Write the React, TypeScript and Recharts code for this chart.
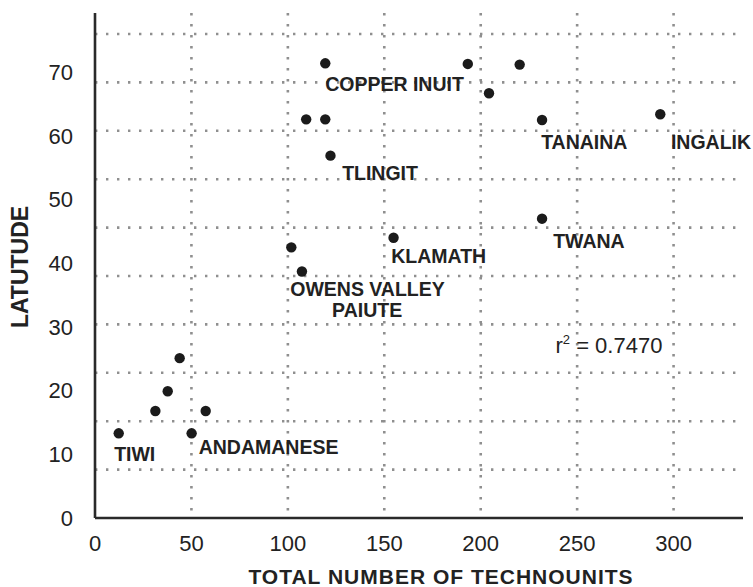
import React from 'react';
import { ScatterChart, Scatter, XAxis, YAxis, CartesianGrid, Label } from 'recharts';

// Total number of technounits (x) and latitude (y) per society
const technounits = [12.3, 31.3, 37.7, 43.9, 57.4, 50.1, 101.8, 107.3, 154.8, 109.5, 119.4, 122.1, 119.4, 193.3, 220.2, 204.3, 231.8, 231.8, 293.1];
const latitude = [13.3, 16.8, 19.9, 25.1, 16.8, 13.3, 42.5, 38.7, 44.0, 62.6, 62.6, 56.9, 71.4, 71.3, 71.2, 66.7, 62.5, 47.0, 63.4];

// Society name annotations (anchor in data units)
const labelText = ['COPPER INUIT', 'TLINGIT', 'TANAINA', 'INGALIK', 'TWANA', 'KLAMATH', 'OWENS VALLEY', 'PAIUTE', 'TIWI', 'ANDAMANESE'];
const labelX = [155.3, 147.8, 253.7, 319.4, 256.1, 178.2, 141.3, 141.1, 20.6, 90.0];
const labelY = [68.2, 54.2, 59.0, 59.0, 43.5, 41.1, 35.9, 32.7, 10.0, 11.2];

// r-squared annotation
const r2Text = ['0.7470'];
const r2X = [266.5];
const r2Y = [27.2];

// Axes
const xTicks = [0, 50, 100, 150, 200, 250, 300];
const yTicks = [0, 10, 20, 30, 40, 50, 60, 70];
const xDomain = [0, 336];
const yDomain = [0, 79.3];
const gridX = [50, 100, 150, 200, 250, 300];
const gridY = [7.6, 15.2, 22.8, 30.4, 38.0, 45.6, 53.2, 60.8, 68.4, 76.0];

const points = technounits.map((x, i) => ({ x, y: latitude[i] }));
const labels = labelText.map((t, i) => ({ x: labelX[i], y: labelY[i], text: t }));
const r2 = r2Text.map((t, i) => ({ x: r2X[i], y: r2Y[i], text: t }));

const FONT = '"Liberation Sans", Arial, Helvetica, sans-serif';
const INK = '#222';

const Dot = (p: any) => <circle cx={p.cx} cy={p.cy} r={5.2} fill="#1b1b1b" />;

const NameLabel = (p: any) => (
  <text x={p.cx} y={p.cy} dy="0.36em" textAnchor="middle" fontFamily={FONT} fontWeight="bold" fontSize={19.5} fill={INK}>
    {p.payload.text}
  </text>
);

const R2Label = (p: any) => (
  <text x={p.cx} y={p.cy} dy="0.36em" textAnchor="middle" fontFamily={FONT} fontSize={22} fill={INK}>
    <tspan>r</tspan>
    <tspan dy={-9} fontSize={13}>2</tspan>
    <tspan dy={9}>{' = ' + p.payload.text}</tspan>
  </text>
);

const XTitle = (p: any) => {
  const vb = p.viewBox;
  return (
    <text x={vb.x + vb.width / 2 + 22} y={vb.y + vb.height - 3} textAnchor="middle" fontFamily={FONT} fontWeight="bold" fontSize={21} letterSpacing={1} fill={INK}>
      TOTAL NUMBER OF TECHNOUNITS
    </text>
  );
};

const YTitle = (p: any) => {
  const vb = p.viewBox;
  const x = vb.x + 28;
  const y = vb.y + vb.height / 2 + 1.5;
  return (
    <text x={x} y={y} transform={`rotate(-90 ${x} ${y})`} textAnchor="middle" fontFamily={FONT} fontWeight="bold" fontSize={23} fill={INK}>
      LATUTUDE
    </text>
  );
};

export default function App() {
  return (
    <div style={{ position: 'absolute', left: 0, top: 0, background: '#fff' }}>
      <ScatterChart width={753} height={587} margin={{ top: 13, right: 10, bottom: 0, left: 0 }}>
        <CartesianGrid
          horizontalValues={gridY}
          verticalValues={gridX}
          stroke="#8f8f8f"
          strokeWidth={2.6}
          strokeDasharray="2.4 8.6"
        />
        <XAxis
          type="number"
          dataKey="x"
          domain={xDomain}
          ticks={xTicks}
          height={69}
          tickLine={false}
          tickSize={0}
          tickMargin={17}
          axisLine={{ stroke: '#2a2a2a', strokeWidth: 2.6 }}
          tick={{ fill: INK, fontSize: 22, fontFamily: FONT }}
        >
          <Label content={XTitle} />
        </XAxis>
        <YAxis
          type="number"
          dataKey="y"
          domain={yDomain}
          ticks={yTicks}
          width={95}
          tickLine={false}
          tickSize={0}
          tickMargin={22}
          axisLine={{ stroke: '#2a2a2a', strokeWidth: 2.6 }}
          tick={{ fill: INK, fontSize: 22, fontFamily: FONT }}
        >
          <Label content={YTitle} />
        </YAxis>
        <Scatter data={points} shape={Dot} isAnimationActive={false} />
        <Scatter data={labels} shape={NameLabel} isAnimationActive={false} />
        <Scatter data={r2} shape={R2Label} isAnimationActive={false} />
      </ScatterChart>
    </div>
  );
}
